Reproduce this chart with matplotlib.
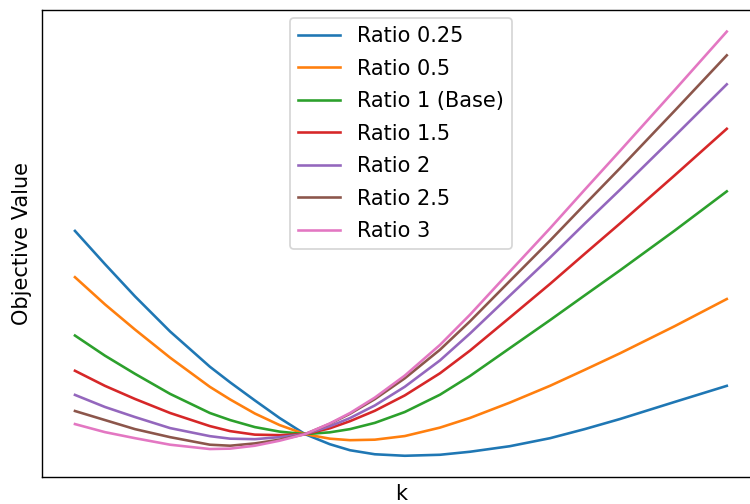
import matplotlib
matplotlib.use("Agg")
import matplotlib.pyplot as plt

# k positions (arbitrary units, no ticks shown)
k = [0.0, 0.46, 0.92, 1.46, 2.07, 2.38, 2.76, 3.14, 3.53, 3.91, 4.22,
     4.60, 5.06, 5.60, 6.06, 6.67, 7.29, 7.82, 8.36, 9.20, 10.0]

# objective values (arbitrary units)
ratio_025 = [250, 217, 185, 150, 115, 99.5, 81.5, 64, 48, 38, 32,
             28, 26.5, 27.5, 30.5, 36, 44, 53, 63, 80, 96]
ratio_05 = [204, 177, 152, 124, 95, 82.5, 68.5, 57, 48, 43.5, 42,
            42.5, 46.1, 54.5, 64.1, 79.3, 96.1, 111.9, 128.3, 155.3, 182.3]
ratio_1 = [146, 126, 108, 88, 69, 62, 55, 50.5, 48, 49.8, 53,
           59.2, 70, 87.2, 105.8, 133.4, 161.4, 185.9, 210.7, 250.3, 289.3]
ratio_15 = [111, 96, 83, 69, 56, 51, 47.5, 47, 48, 53.8, 60.9,
            71.2, 86.5, 108.5, 131, 163.8, 197.4, 227.2, 257.3, 305.2, 351.5]
ratio_2 = [87, 75, 65, 54, 46, 43.5, 43, 45, 48, 55.8, 64,
           76.5, 95.1, 121.3, 148, 185.6, 223.6, 257.2, 290.8, 344.2, 395.7]
ratio_25 = [71, 62, 53, 45, 37.5, 36.5, 38.8, 42.5, 48, 58.3, 68.3,
            82.8, 103.5, 131.9, 160.1, 200.1, 240.5, 276.2, 312.2, 369.4, 424.5]
ratio_3 = [58, 50, 44, 37.5, 33.2, 33.6, 36.5, 41.5, 48, 58.6, 69,
           84.3, 106.2, 136.7, 166.7, 209.5, 252.7, 290.9, 329.4, 389.9, 448.1]

series = [ratio_025, ratio_05, ratio_1, ratio_15, ratio_2, ratio_25, ratio_3]
labels = ["Ratio 0.25", "Ratio 0.5", "Ratio 1 (Base)", "Ratio 1.5",
          "Ratio 2", "Ratio 2.5", "Ratio 3"]

plt.rcParams["font.size"] = 12
fig = plt.figure(figsize=(6, 4.032), dpi=125)
ax = fig.add_axes([0.0565, 0.0536, 0.956, 0.9258])

for vals, lab in zip(series, labels):
    ax.plot(k, vals, label=lab)

ax.set_xticks([])
ax.set_yticks([])
ax.set_xlabel("k")
ax.set_ylabel("Objective Value", labelpad=6)
ax.legend(loc="upper center", labelspacing=0.6, borderaxespad=0.35)

fig.savefig("out.png", dpi=125)
